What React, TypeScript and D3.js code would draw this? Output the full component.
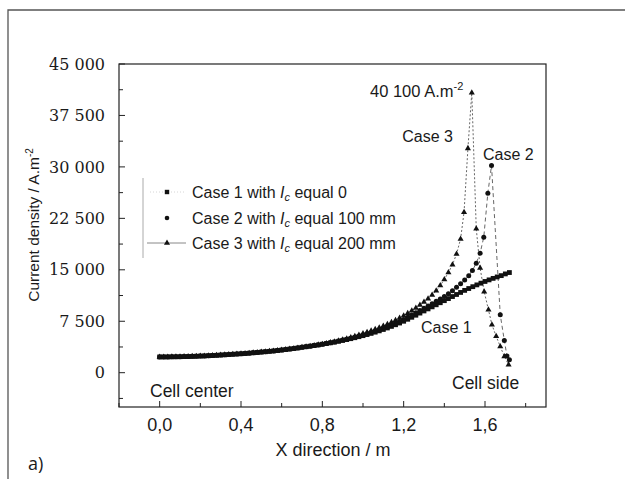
import React from "react"
import * as d3 from "d3"

// x grid (m) shared by the three cases up to the cell side
const xBase = [0, 0.02, 0.04, 0.06, 0.08, 0.1, 0.12, 0.14, 0.16, 0.18, 0.2, 0.22, 0.24, 0.26, 0.28, 0.3, 0.32, 0.34, 0.36, 0.38, 0.4, 0.42, 0.44, 0.46, 0.48, 0.5, 0.52, 0.54, 0.56, 0.58, 0.6, 0.62, 0.64, 0.66, 0.68, 0.7, 0.72, 0.74, 0.76, 0.78, 0.8, 0.82, 0.84, 0.86, 0.88, 0.9, 0.92, 0.94, 0.96, 0.98, 1.0, 1.02, 1.04, 1.06, 1.08, 1.1, 1.12, 1.14, 1.16, 1.18, 1.2, 1.22, 1.24, 1.26, 1.28, 1.3, 1.32, 1.34, 1.36, 1.38, 1.4, 1.42, 1.44, 1.46, 1.48]

// values up to x = 0.8 are the same for every case
const common = [2300, 2300, 2305, 2310, 2320, 2330, 2345, 2360, 2380, 2400, 2420, 2445, 2475, 2505, 2535, 2570, 2605, 2645, 2685, 2720, 2760, 2805, 2850, 2900, 2950, 3000, 3055, 3110, 3170, 3235, 3300, 3375, 3450, 3530, 3615, 3700, 3785, 3870, 3960, 4055, 4150]

// case 1 : Ic = 0
const case1Tail = [4250, 4355, 4460, 4580, 4700, 4830, 4960, 5100, 5250, 5400, 5560, 5730, 5910, 6100, 6300, 6520, 6750, 6990, 7240, 7500, 7790, 8080, 8380, 8690, 9000, 9300, 9600, 9900, 10200, 10500, 10800, 11100, 11400, 11700]
const case1X = [1.5, 1.52, 1.54, 1.56, 1.58, 1.6, 1.62, 1.64, 1.66, 1.68, 1.7, 1.72]
const case1End = [12000, 12270, 12540, 12800, 13050, 13300, 13530, 13750, 13960, 14150, 14400, 14600]

// case 2 : Ic = 100 mm
const case2Tail = [4260, 4370, 4490, 4620, 4750, 4890, 5030, 5180, 5340, 5500, 5680, 5860, 6050, 6250, 6450, 6690, 6940, 7200, 7470, 7750, 8070, 8400, 8730, 9060, 9400, 9730, 10060, 10400, 10750, 11100, 11500, 11950, 12450, 12950]
const case2X = [1.5, 1.52, 1.538, 1.557, 1.576, 1.594, 1.614, 1.632, 1.675, 1.695, 1.708, 1.72]
const case2End = [13500, 14150, 14900, 15970, 17430, 19760, 26170, 30200, 8450, 4700, 2450, 1900]

// case 3 : Ic = 200 mm
const case3Tail = [4270, 4390, 4520, 4660, 4800, 4960, 5130, 5310, 5500, 5700, 5900, 6110, 6330, 6560, 6800, 7070, 7350, 7640, 7960, 8300, 8660, 9040, 9440, 9860, 10300, 10790, 11330, 11930, 12700, 13600, 14600, 15750, 17300, 19500]
const case3X = [1.497, 1.516, 1.535, 1.557, 1.576, 1.596, 1.617, 1.634, 1.655, 1.675, 1.695, 1.716]
const case3End = [23400, 32700, 40800, 21000, 15250, 11800, 9170, 7000, 5300, 3830, 2370, 1170]

const yMajor = [0, 7500, 15000, 22500, 30000, 37500, 45000]
const yMinor = [-3750, 3750, 11250, 18750, 26250, 33750, 41250]
const xMajor = [0, 0.4, 0.8, 1.2, 1.6]
const xMinor = [-0.2, 0.2, 0.6, 1.0, 1.4, 1.8]

const locale = d3.formatLocale({ decimal: ",", thousands: " ", grouping: [3], currency: ["", ""] })
const fmtY = locale.format(",d")
const fmtX = locale.format(".1f")

const build = (tail: number[], xs: number[], end: number[]) => {
  const pts = xBase.map((x, i) => ({ x, y: i < common.length ? common[i] : tail[i - common.length] }))
  return pts.concat(xs.map((x, i) => ({ x, y: end[i] })))
}

const series1 = build(case1Tail, case1X, case1End)
const series2 = build(case2Tail, case2X, case2End)
const series3 = build(case3Tail, case3X, case3End)

const sans = { fontFamily: "'Liberation Sans', Arial, Helvetica, sans-serif" }
const serif = { fontFamily: "'DejaVu Serif', 'Liberation Serif', 'Times New Roman', Times, serif" }
const ink = "#1a1a1a"

export default function App() {
  const x = d3.scaleLinear().domain([-0.2, 1.9]).range([119, 546])
  const y = d3.scaleLinear().domain([-5000, 45000]).range([407, 64])
  const line = d3.line<{ x: number; y: number }>().x(d => x(d.x)).y(d => y(d.y))
  const tri = d3.symbol().type(d3.symbolTriangle).size(16)()

  return (
    <svg width={625} height={479} style={{ position: "absolute", left: 0, top: 0, background: "#fff" }}>
      {/* outer figure frame */}
      <path d="M8,479 V10 H625" fill="none" stroke="#555" strokeWidth={1.3} />

      {/* plot frame */}
      <rect x={119} y={64} width={427} height={343} fill="none" stroke="#222" strokeWidth={1.2} />

      {yMajor.map(v => (
        <g key={"ym" + v}>
          <line x1={119} x2={125} y1={y(v)} y2={y(v)} stroke="#222" />
          <text x={105} y={y(v)} dy="0.35em" textAnchor="end" style={serif} fontSize={16} fill={ink}>{fmtY(v)}</text>
        </g>
      ))}
      {yMinor.map(v => (
        <line key={"yn" + v} x1={119} x2={123} y1={y(v)} y2={y(v)} stroke="#222" />
      ))}
      {xMajor.map(v => (
        <g key={"xm" + v}>
          <line x1={x(v)} x2={x(v)} y1={407} y2={401} stroke="#222" />
          <text x={x(v)} y={431} textAnchor="middle" style={sans} fontSize={18} fill={ink}>{fmtX(v)}</text>
        </g>
      ))}
      {xMinor.map(v => (
        <line key={"xn" + v} x1={x(v)} x2={x(v)} y1={407} y2={403} stroke="#222" />
      ))}

      <text x={333} y={456} textAnchor="middle" style={sans} fontSize={18} fill={ink}>X direction / m</text>
      <text transform="translate(39,225) rotate(-90)" textAnchor="middle" style={sans} fontSize={15.5} fill={ink}>
        Current density / A.m<tspan dy={-6} fontSize={10}>-2</tspan>
      </text>

      {/* series lines */}
      <path d={line(series1) ?? ""} fill="none" stroke="#111" strokeWidth={2} />
      <path d={line(series2) ?? ""} fill="none" stroke="#555" strokeWidth={0.9} strokeDasharray="4,3" />
      <path d={line(series3) ?? ""} fill="none" stroke="#555" strokeWidth={0.9} strokeDasharray="2,2" />

      {/* markers */}
      {series1.map((d, i) => (
        <rect key={"s" + i} x={x(d.x) - 2.4} y={y(d.y) - 2.4} width={4.8} height={4.8} fill="#111" />
      ))}
      {series2.map((d, i) => (
        <circle key={"c" + i} cx={x(d.x)} cy={y(d.y)} r={2.5} fill="#111" />
      ))}
      {series3.map((d, i) => (
        <path key={"t" + i} d={tri ?? ""} transform={`translate(${x(d.x)},${y(d.y)})`} fill="#111" />
      ))}

      {/* legend */}
      <line x1={143} x2={143} y1={178} y2={258} stroke="#aaa" strokeWidth={1} />
      <line x1={150} x2={185} y1={192} y2={192} stroke="#ccc" strokeWidth={0.8} strokeDasharray="1,2" />
      <rect x={164.8} y={189.8} width={4.4} height={4.4} fill="#111" />
      <circle cx={167} cy={218} r={2.3} fill="#111" />
      <line x1={147} x2={186} y1={243} y2={243} stroke="#888" strokeWidth={1} />
      <path d={tri ?? ""} transform="translate(167,243)" fill="#111" />
      {[
        { t: "Case 1 with ", v: "equal 0", yy: 198 },
        { t: "Case 2 with ", v: "equal 100 mm", yy: 223.5 },
        { t: "Case 3 with ", v: "equal 200 mm", yy: 249 },
      ].map(r => (
        <text key={r.t} x={192} y={r.yy} style={sans} fontSize={16} fill={ink}>
          {r.t}
          <tspan fontStyle="italic">I</tspan>
          <tspan dy={3} fontSize={11} fontStyle="italic">c</tspan>
          <tspan dy={-3}> {r.v}</tspan>
        </text>
      ))}

      {/* annotations */}
      <text x={370} y={97} style={sans} fontSize={16.5} fill={ink}>
        40 100 A.m<tspan dy={-7} fontSize={11}>-2</tspan>
      </text>
      <text x={453} y={142} textAnchor="end" style={sans} fontSize={16} fill={ink}>Case 3</text>
      <text x={483} y={160} style={sans} fontSize={16} fill={ink}>Case 2</text>
      <text x={421} y={333} style={sans} fontSize={16} fill={ink}>Case 1</text>
      <text x={150} y={397} style={sans} fontSize={17.5} fill={ink}>Cell center</text>
      <text x={452} y={389} style={sans} fontSize={17.5} fill={ink}>Cell side</text>

      <text x={28} y={470} style={{ fontFamily: "'Open Sans', sans-serif" }} fontSize={18} fill={ink}>a)</text>
    </svg>
  )
}
